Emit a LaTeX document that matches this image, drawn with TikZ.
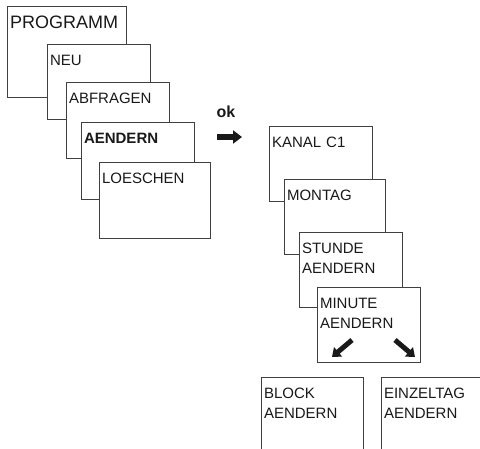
\documentclass[tikz,border=0pt]{standalone}
\usepackage{fontspec}
\setmainfont{Liberation Sans}
\usetikzlibrary{arrows.meta}
\begin{document}
\begin{tikzpicture}[x=1bp, y=-1bp,
          screen/.style={draw=black!75, line width=1bp, fill=white, anchor=north west,
                         inner xsep=2.5bp, inner ysep=0pt, align=left, text height=21bp,
                         text=black!90, font=\fontsize{15bp}{20bp}\selectfont},
          fat arrow/.style={line width=6bp, black!90, -{Triangle[length=9bp, width=13bp]}},
          tilt arrow/.style={line width=5bp, black!90, -{Triangle[length=8bp, width=12bp]}}]
            \clip (0,0) rectangle (480,449);
            % menu on the left
            \node[screen, text width=114bp, text height=22bp, text depth=69bp,
                  font=\fontsize{18bp}{22bp}\selectfont] (programm) at (7,6) {PROGRAMM};
            \node[screen, text width=98bp, text depth=54bp] (neu) at (47,44) {NEU};
            \node[screen, text width=98bp, text depth=55bp] (abfragen) at (66,82) {ABFRAGEN};
            \node[screen, text width=108bp, text depth=56bp, font=\fontsize{15bp}{20bp}\selectfont\bfseries] (aendern) at (81,122) {AENDERN};
            \node[screen, text width=106bp, text depth=55bp] (loeschen) at (99,162) {LOESCHEN};
            % ok key
            \node[font=\fontsize{16bp}{18bp}\selectfont\bfseries, text=black!90, inner sep=0pt] (ok) at (226,112) {ok};
            \coordinate (okA) at (217,137);
            \coordinate (okB) at (242,137);
            \draw[fat arrow] (okA) -- (okB);
            % sub menu
            \node[screen, text width=98bp, text depth=54bp] (kanal) at (269,126) {KANAL C1};
            \node[screen, text width=96bp, text depth=54bp] (montag) at (284,179) {MONTAG};
            \node[screen, text width=98bp, text depth=54bp] (stunde) at (299,232) {STUNDE\\AENDERN};
            \node[screen, text width=98bp, text depth=54bp] (minute) at (317,287) {MINUTE\\AENDERN};
            \coordinate (leftA) at (352,340);
            \coordinate (leftB) at (332,357);
            \coordinate (rightA) at (395,340);
            \coordinate (rightB) at (415,357);
            \draw[tilt arrow] (leftA) -- (leftB);
            \draw[tilt arrow] (rightA) -- (rightB);
            % choices
            \node[screen, text width=97bp, text depth=80bp] (block) at (261,377) {BLOCK\\AENDERN};
            \node[screen, text width=113bp, text depth=80bp] (einzeltag) at (381,377) {EINZELTAG\\AENDERN};
        \end{tikzpicture}
\end{document}
